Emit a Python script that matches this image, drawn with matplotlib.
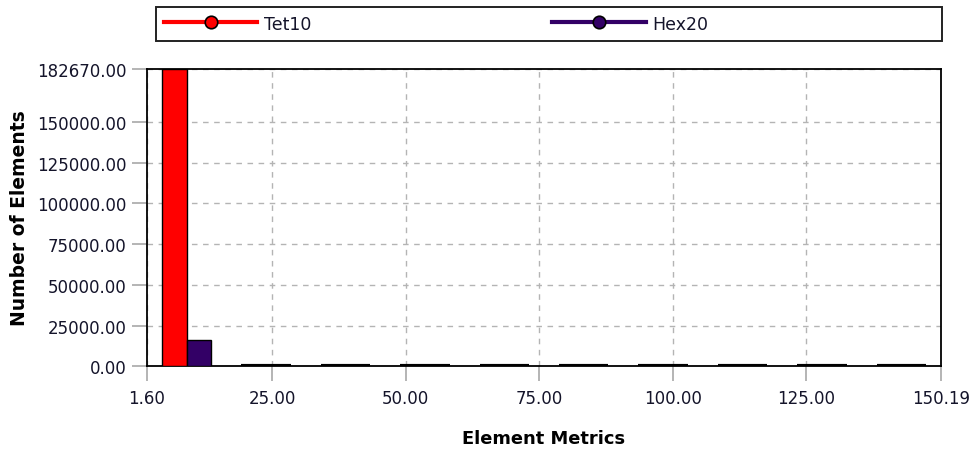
import matplotlib
matplotlib.use("Agg")
import matplotlib.pyplot as plt
from matplotlib.lines import Line2D
from matplotlib.patches import Rectangle
import numpy as np

# Data
x_min, x_max = 1.60, 150.19
n_bins = 10
tet10 = [182670, 0, 0, 0, 0, 0, 0, 0, 0, 0]
hex20 = [16300, 0, 0, 0, 0, 0, 0, 0, 0, 0]
series_names = ["Tet10", "Hex20"]
series_colors = ["#ff0000", "#330066"]
xtick_vals = [1.60, 25.00, 50.00, 75.00, 100.00, 125.00, 150.19]
ytick_vals = [0, 25000, 50000, 75000, 100000, 125000, 150000, 182670]

plt.rcParams['font.family'] = ['DejaVu Sans']
txt_color = "#14142a"

W, H = 975, 452
fig = plt.figure(figsize=(W/100, H/100), dpi=100)
ax = fig.add_axes([147/W, 1-367.3/H, (941-147)/W, (367.3-69.7)/H])

bw = (x_max - x_min) / n_bins
centers = x_min + bw * (np.arange(n_bins) + 0.5)
w = bw * 0.31
for vals, col, off in [(tet10, series_colors[0], -0.5), (hex20, series_colors[1], 0.5)]:
    lws = [1.0 if v > 0 else 3.0 for v in vals]
    ax.bar(centers + off * w, vals, width=w, color=col, edgecolor="black",
           linewidth=lws, zorder=3)

ax.set_xlim(x_min, x_max)
ax.set_ylim(0, max(ytick_vals))
ax.set_xticks(xtick_vals)
ax.set_xticklabels([f"{v:.2f}" for v in xtick_vals])
ax.set_yticks(ytick_vals)
ax.set_yticklabels([f"{v:.2f}" for v in ytick_vals])
ax.tick_params(axis="both", direction="out", length=10.5, width=1.2, color="#a8a8a8",
               labelsize=12, labelcolor=txt_color)
ax.tick_params(axis="y", pad=4)
ax.tick_params(axis="x", pad=5.5)
ax.grid(True, linestyle=(0, (4, 4)), color="#b4b4b4", linewidth=1, zorder=0)
for s in ax.spines.values():
    s.set_color("black")
    s.set_linewidth(1.3)

ax.set_xlabel("Element Metrics", fontsize=12.9, fontweight="bold", labelpad=16,
              color="black")
ax.set_ylabel("Number of Elements", fontsize=13.5, fontweight="bold", labelpad=6,
              color="black")

# legend box
fig.patches.append(Rectangle((156/W, 1-42/H), (942-156)/W, 34/H,
                             transform=fig.transFigure, facecolor="white",
                             edgecolor="#222222", linewidth=1.4, zorder=0))
handles = [Line2D([0], [0], color=c, lw=3.0, marker="o", markersize=9,
                  markerfacecolor=c, markeredgecolor="black", markeredgewidth=1.2)
           for c in series_colors]
leg = fig.legend(handles, series_names, ncol=2,
                 bbox_to_anchor=(162/W, 1-24.5/H), loc="center left",
                 fontsize=12.5, handlelength=5.4, handletextpad=0.35, borderaxespad=0,
                 columnspacing=13.9, frameon=False, borderpad=0.1,
                 labelcolor=txt_color)

fig.savefig("out.png", dpi=100)
